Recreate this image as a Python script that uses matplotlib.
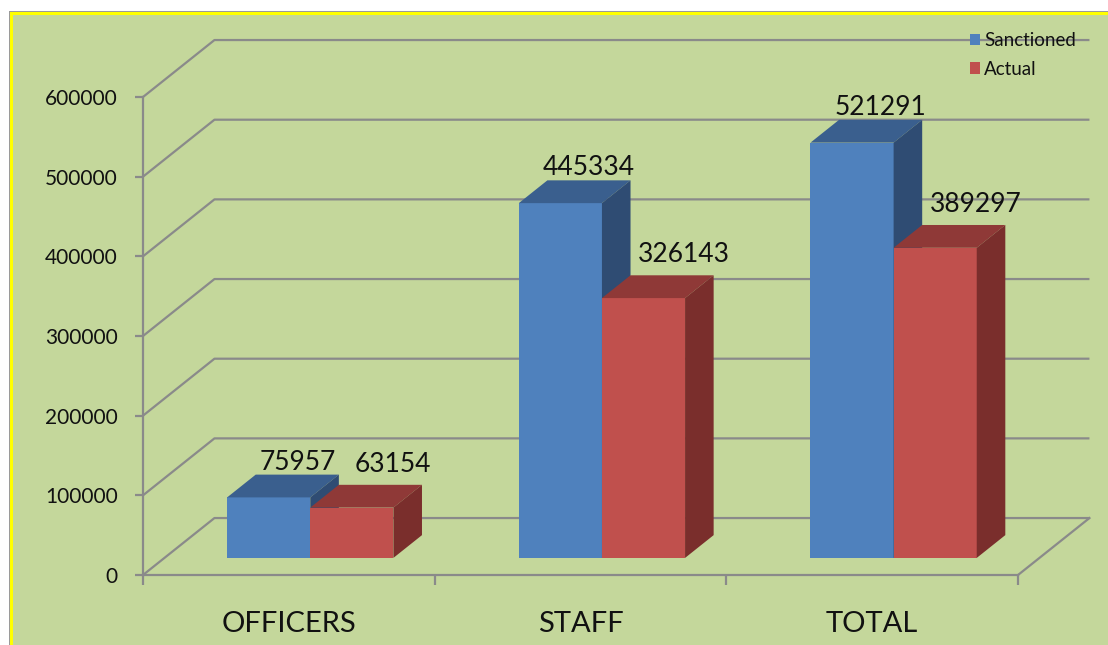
import matplotlib
matplotlib.use("Agg")
import matplotlib.pyplot as plt
from matplotlib.patches import Rectangle, Polygon, Patch

# ---- data ----
categories = ["OFFICERS", "STAFF", "TOTAL"]
sanctioned = [75957, 445334, 521291]
actual = [63154, 326143, 389297]
series_names = ["Sanctioned", "Actual"]
yticks = [0, 100000, 200000, 300000, 400000, 500000, 600000]

# ---- style ----
W, H = 1108, 645
BG = "#C4D79B"
GRID = "#8A8A8A"
FRONT = ["#4F81BD", "#C0504D"]
TOP = ["#3A5F8E", "#8F3937"]
SIDE = ["#2F4C73", "#7A2E2C"]
FONT = ["Lato", "DejaVu Sans"]
plt.rcParams["font.family"] = FONT

fig = plt.figure(figsize=(W / 100, H / 100), dpi=100)
fig.patch.set_facecolor("white")

def fx(px):
    return px / W

def fy(py):
    return 1 - py / H

# background panel with yellow border and grey outline
fig.patches.append(Rectangle((fx(9), 0), 1, fy(11), transform=fig.transFigure,
                             facecolor="#9A9A9A", edgecolor="none", zorder=-3))
fig.patches.append(Rectangle((fx(10), 0), 1, fy(12), transform=fig.transFigure,
                             facecolor="#FFFF00", edgecolor="none", zorder=-2))
fig.patches.append(Rectangle((fx(13), 0), 1, fy(15), transform=fig.transFigure,
                             facecolor=BG, edgecolor="none", zorder=-1))

# front plane axes
ax = fig.add_axes([fx(143), 1 - 575 / H, 875 / W, 478 / H])
ax.set_xlim(-0.5, 2.5)
ax.set_ylim(0, 600000)
ax.patch.set_alpha(0)
for s in ["top", "right"]:
    ax.spines[s].set_visible(False)
for s in ["left", "bottom"]:
    ax.spines[s].set_color(GRID)
    ax.spines[s].set_linewidth(1.6)

ax.set_yticks(yticks)
ax.set_yticklabels([str(v) for v in yticks], fontsize=15, color="#111111")
ax.tick_params(axis="y", direction="out", length=6, width=1.6, color=GRID, pad=12)

ax.set_xticks(range(len(categories)))
ax.set_xticklabels(categories, fontsize=21, color="#111111")
ax.tick_params(axis="x", which="major", length=0, pad=26)
ax.set_xticks([i - 0.5 for i in range(len(categories) + 1)], minor=True)
ax.tick_params(axis="x", which="minor", direction="out", length=7, width=1.6, color=GRID)

# 3D depth of the walls (in data units)
DXw = 0.245
DYw = 71500
x0, x1 = -0.5, len(categories) - 0.5
for v in yticks:
    ax.plot([x0, x0 + DXw, x1 + DXw], [v, v + DYw, v + DYw], color=GRID, lw=1.6,
            clip_on=False, zorder=1, solid_capstyle="butt")
ax.plot([x1, x1 + DXw], [0, DYw], color=GRID, lw=1.6, clip_on=False, zorder=1)

# bars
w = 0.285
fb = 0.3   # bar position in depth (fraction of wall)
fd = 0.4   # bar depth (fraction of wall)
bdx, bdy = fb * DXw, fb * DYw
ddx, ddy = fd * DXw, fd * DYw

for i in range(len(categories)):
    for k, vals in enumerate([sanctioned, actual]):
        v = vals[i]
        xl = i - w + k * w + bdx
        b = bdy
        ax.bar(xl, v, width=w, bottom=b, align="edge", color=FRONT[k],
               edgecolor="none", zorder=3 + 2 * k, clip_on=False)
        top = Polygon([(xl, b + v), (xl + w, b + v), (xl + w + ddx, b + v + ddy),
                       (xl + ddx, b + v + ddy)], closed=True, facecolor=TOP[k],
                      edgecolor="none", zorder=3 + 2 * k, clip_on=False)
        side = Polygon([(xl + w, b), (xl + w, b + v), (xl + w + ddx, b + v + ddy),
                        (xl + w + ddx, b + ddy)], closed=True, facecolor=SIDE[k],
                       edgecolor="none", zorder=3 + 2 * k, clip_on=False)
        ax.add_patch(top)
        ax.add_patch(side)
        # value label above back-top edge
        offx = [0, 12][k]
        offy = [0, 8][k]
        ax.annotate(str(v), (xl + w / 2 + ddx, b + v + ddy), xytext=(offx * 0.72, offy * 0.72),
                    textcoords="offset points", ha="center", va="bottom",
                    fontsize=19, color="#111111", zorder=10, annotation_clip=False)

# legend
handles = [Patch(facecolor=FRONT[0], edgecolor="none"),
           Patch(facecolor=FRONT[1], edgecolor="none")]
leg = fig.legend(handles, series_names, loc="upper left",
                 bbox_to_anchor=(fx(970), fy(32)), frameon=False, fontsize=13.5,
                 handlelength=0.55, handleheight=0.55, handletextpad=0.2,
                 labelspacing=0.62, borderpad=0, borderaxespad=0)
for t in leg.get_texts():
    t.set_color("#111111")

fig.savefig("out.png", dpi=100, facecolor=fig.get_facecolor())
